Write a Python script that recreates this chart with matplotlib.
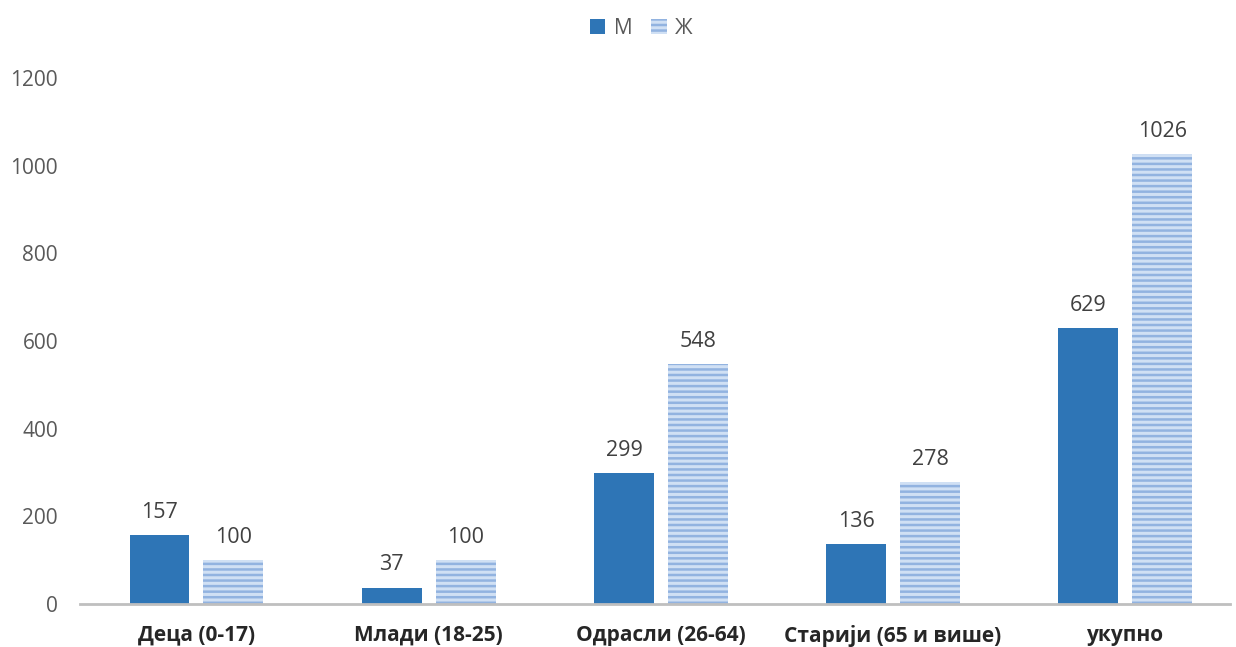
import matplotlib
matplotlib.use("Agg")
import matplotlib.pyplot as plt
import numpy as np

categories = ["Деца (0-17)", "Млади (18-25)", "Одрасли (26-64)", "Старији (65 и више)", "укупно"]
male = [157, 37, 299, 136, 629]
female = [100, 100, 548, 278, 1026]
series_names = ["М", "Ж"]
yticks = [0, 200, 400, 600, 800, 1000, 1200]

plt.rcParams['font.family'] = ['Open Sans', 'DejaVu Sans']
plt.rcParams['hatch.linewidth'] = 1.8

fig = plt.figure(figsize=(12.36, 6.47), dpi=100)
ax = fig.add_axes([0.065, 0.0665, 0.93, 0.8129])

x = np.arange(len(categories))
w = 0.258
off = 0.159
b1 = ax.bar(x - off, male, w, color="#2e75b6", label=series_names[0])
b2 = ax.bar(x + off, female, w, color="#d0e0f4", edgecolor="#92b3e0", hatch="---",
            linewidth=0, label=series_names[1])

for rect, v in zip(b1, male):
    ax.text(rect.get_x() + rect.get_width() / 2, v + 28, str(v), ha="center", va="bottom",
            fontsize=15.5, color="#404040")
for rect, v in zip(b2, female):
    ax.text(rect.get_x() + rect.get_width() / 2, v + 28, str(v), ha="center", va="bottom",
            fontsize=15.5, color="#404040")

ax.set_xlim(-0.5, 4.45)
ax.set_ylim(0, 1200)
ax.set_yticks(yticks)
ax.tick_params(axis="y", length=0, labelsize=15, labelcolor="#595959", pad=16)
ax.set_xticks(x)
ax.set_xticklabels(categories, fontsize=15, fontweight="bold", color="#262626")
ax.tick_params(axis="x", length=0, pad=15)
for s in ["top", "right", "left"]:
    ax.spines[s].set_visible(False)
ax.spines["bottom"].set_color("#bfbfbf")
ax.spines["bottom"].set_linewidth(2)

ax.legend(loc="upper center", bbox_to_anchor=(0.488, 1.15), ncol=2, frameon=False,
          fontsize=15, handlelength=0.75, handleheight=0.75, handletextpad=0.4,
          columnspacing=0.9, labelcolor="#595959")

fig.savefig("out.png", dpi=100)
